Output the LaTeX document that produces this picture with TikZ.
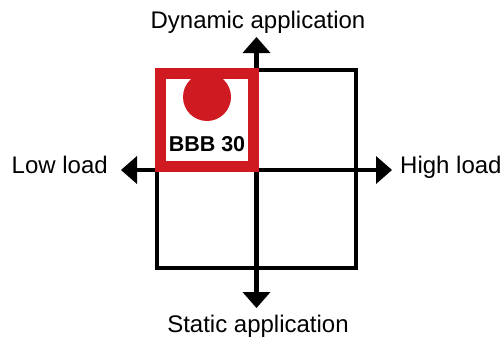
\documentclass[tikz,border=0pt]{standalone}
\usepackage{fontspec}
\setmainfont{Liberation Sans}
\usetikzlibrary{arrows.meta}
\definecolor{bred}{RGB}{206,26,32}
\tikzset{
  axis/.style={line width=4.5pt, -{Triangle[width=28pt,length=16pt,line width=0pt]}},
  frame/.style={line width=4.5pt},
  lbl/.style={font=\fontsize{24}{28}\selectfont, inner sep=0pt, anchor=base}
}
\begin{document}
\begin{tikzpicture}[x=1pt,y=-1pt]
\useasboundingbox (0,0) rectangle (503,340);
\draw[frame] (157,70) rectangle (356,268);
\coordinate (c) at (256.5,170);
\coordinate (top) at (256.5,37);
\coordinate (bot) at (256.5,308);
\coordinate (lft) at (121,170);
\coordinate (rgt) at (392,170);
\draw[axis] (c) -- (top);
\draw[axis] (c) -- (bot);
\draw[axis] (c) -- (lft);
\draw[axis] (c) -- (rgt);
\draw[bred, line width=11pt] (160.5,73.5) rectangle (253.5,166.5);
\fill[bred] (207,97) circle (24);
\node[font=\fontsize{21.5}{24}\selectfont\bfseries, inner sep=0pt, anchor=base] (bbb) at (207,151) {BBB 30};
\node[lbl] (dyn) at (258,28) {Dynamic application};
\node[lbl] (sta) at (258,332) {Static application};
\node[lbl, anchor=base east] (low) at (108,173) {Low load};
\node[lbl, anchor=base west] (high) at (400,173) {High load};
\end{tikzpicture}
\end{document}
